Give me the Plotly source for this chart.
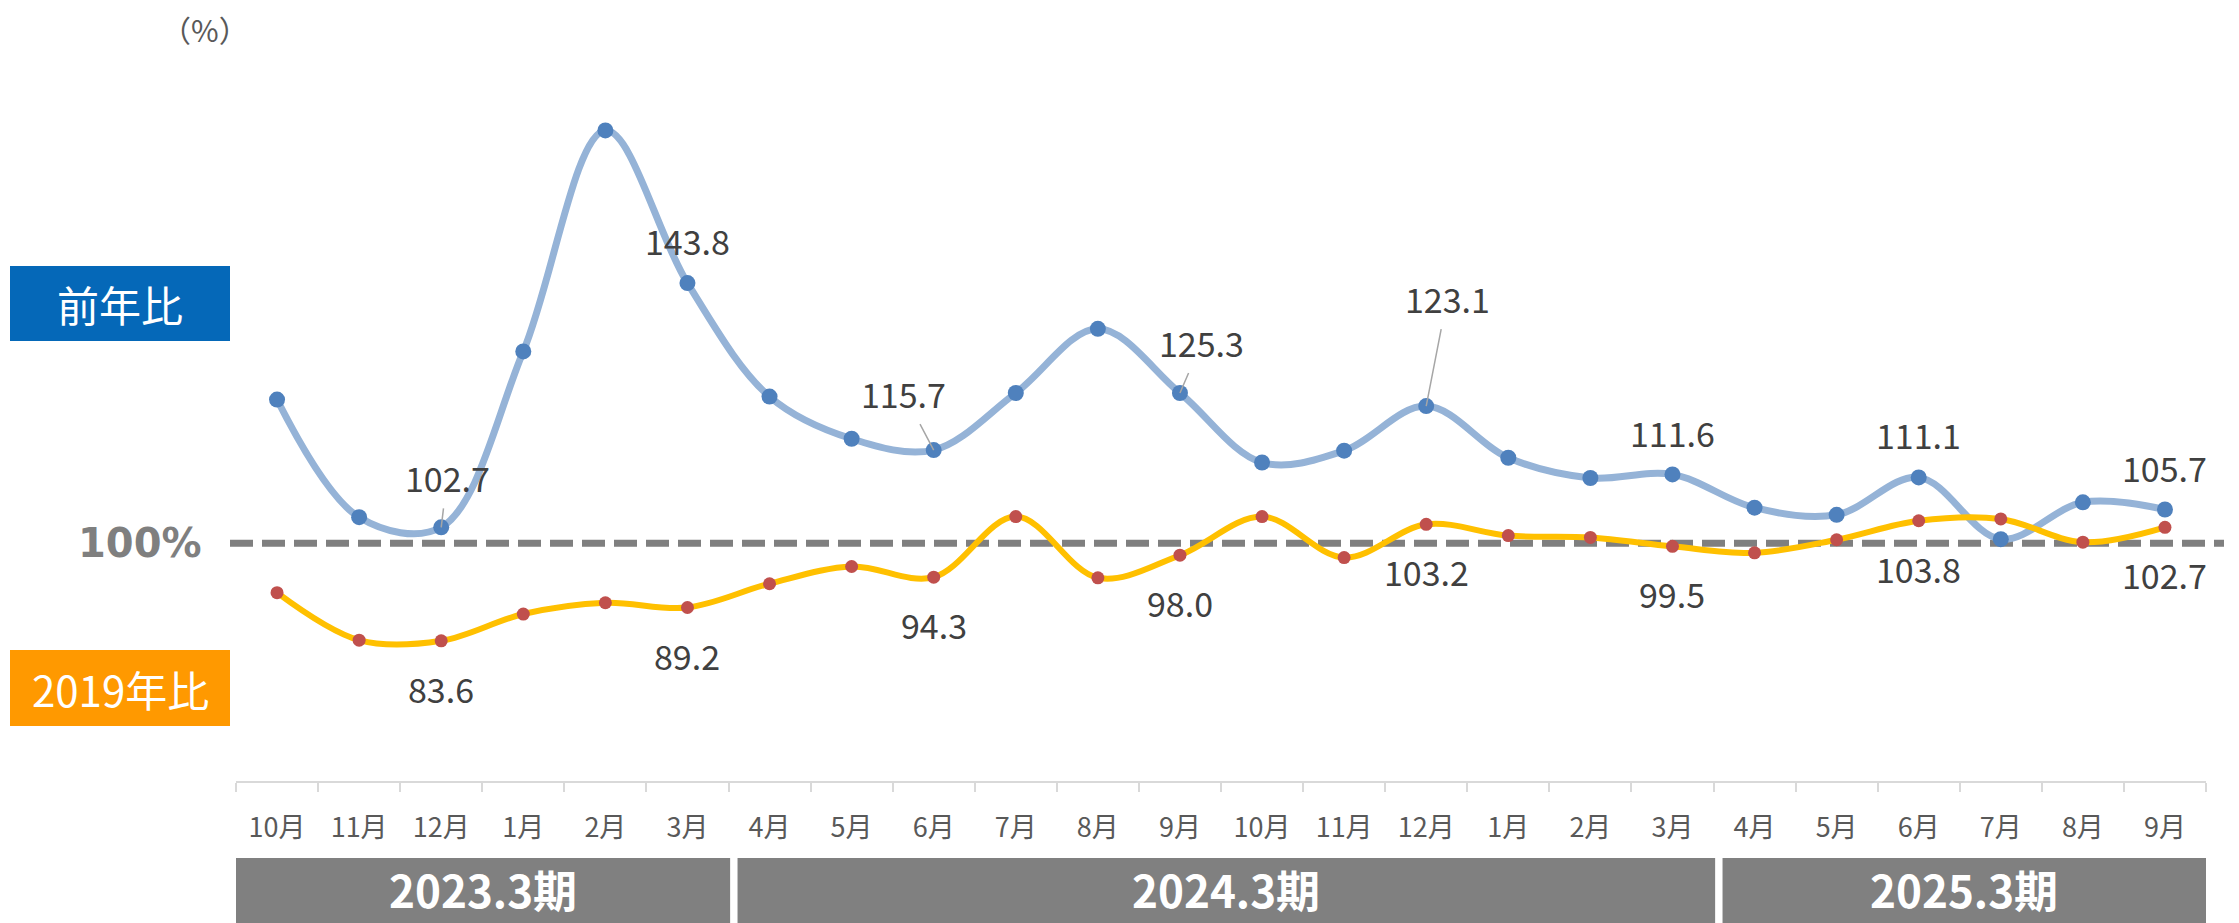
import plotly.graph_objects as go

# ---------------- data ----------------
months = ["10月", "11月", "12月", "1月", "2月", "3月",
          "4月", "5月", "6月", "7月", "8月", "9月", "10月", "11月", "12月", "1月", "2月", "3月",
          "4月", "5月", "6月", "7月", "8月", "9月"]
yoy = [124.2, 104.4, 102.7, 132.3, 169.5, 143.8,
       124.7, 117.6, 115.7, 125.3, 136.1, 125.3, 113.6, 115.6, 123.1, 114.4, 111.0, 111.6,
       106.0, 104.8, 111.1, 100.7, 106.9, 105.7]
vs2019 = [91.7, 83.7, 83.6, 88.1, 90.0, 89.2,
          93.2, 96.1, 94.3, 104.5, 94.2, 98.0, 104.5, 97.6, 103.2, 101.3, 101.0, 99.5,
          98.4, 100.6, 103.8, 104.1, 100.2, 102.7]
label_idx = [2, 5, 8, 11, 14, 17, 20, 23]
periods = ["2023.3期", "2024.3期", "2025.3期"]
period_months = [6, 12, 6]
series_names = ["前年比", "2019年比"]
baseline = 100

# ---------------- layout geometry ----------------
W, H = 2239, 923
L, R, T, B = 236, 33, 68, 142
PW, PH = W - L - R, H - T - B


def px(xp):
    return (xp - L) / PW


def py(yp):
    return (H - B - yp) / PH


FONT = "Noto Sans CJK JP"
x = list(range(len(months)))

fig = go.Figure()
fig.add_trace(go.Scatter(
    x=x, y=yoy, mode="lines+markers", name=series_names[0],
    line=dict(color="#95b3d7", width=7, shape="spline", smoothing=1),
    marker=dict(color="#4f81bd", size=16), hoverinfo="skip"))
fig.add_trace(go.Scatter(
    x=x, y=vs2019, mode="lines+markers", name=series_names[1],
    line=dict(color="#ffc000", width=6, shape="spline", smoothing=1),
    marker=dict(color="#c0504d", size=13), hoverinfo="skip"))

shapes = []
annotations = []

# 100% dashed reference line
shapes.append(dict(type="line", xref="paper", yref="y", x0=px(230), x1=px(2224),
                   y0=baseline, y1=baseline, layer="below",
                   line=dict(color="#7f7f7f", width=7, dash="23px,9px")))

# data labels
blue_off = {2: (6, 50, True), 5: (0, 43, False), 8: (-30, 57, True), 11: (22, 51, True),
            14: (21, 108, True), 17: (0, 42, False), 20: (0, 43, False), 23: (0, 42, False)}
lab_font = dict(family=FONT, size=34, color="#404040")
for i in label_idx:
    dx, dy, leader = blue_off[i]
    if leader:
        annotations.append(dict(x=i, y=yoy[i], xref="x", yref="y", text=f"{yoy[i]:.1f}",
                                showarrow=True, ax=dx, ay=-dy, arrowhead=0, arrowwidth=1.5,
                                arrowcolor="#a6a6a6", standoff=0, borderpad=6, font=lab_font))
    else:
        annotations.append(dict(x=i, y=yoy[i], xref="x", yref="y", text=f"{yoy[i]:.1f}",
                                showarrow=False, xshift=dx, yshift=dy, font=lab_font,
                                xanchor="center", yanchor="middle"))
    annotations.append(dict(x=i, y=vs2019[i], xref="x", yref="y", text=f"{vs2019[i]:.1f}",
                            showarrow=False, yshift=-47.5, font=lab_font,
                            xanchor="center", yanchor="middle"))

# series name boxes
boxes = [(series_names[0], "#0568b8", 266, 341), (series_names[1], "#ff9900", 650, 726)]
for name, col, yt, yb in boxes:
    shapes.append(dict(type="rect", xref="paper", yref="paper", x0=px(10), x1=px(230),
                       y0=py(yb), y1=py(yt), fillcolor=col, line=dict(width=0)))
    annotations.append(dict(x=px(120), y=py((yt + yb) / 2), xref="paper", yref="paper",
                            text=name, showarrow=False, xanchor="center", yanchor="middle",
                            font=dict(family=FONT, size=42, color="white")))

# 100% label
annotations.append(dict(x=px(139.5), y=baseline, xref="paper", yref="y", text="100%",
                        showarrow=False, xanchor="center", yanchor="middle",
                        font=dict(family="DejaVu Sans", size=40, color="#7f7f7f", weight="bold")))
# unit
annotations.append(dict(x=px(205), y=py(29), xref="paper", yref="paper", text="（%）",
                        showarrow=False, xanchor="center", yanchor="middle",
                        font=dict(family=FONT, size=30, color="#595959")))

# fiscal period bars
start = -0.5
for k, (pname, n) in enumerate(zip(periods, period_months)):
    end = start + n
    x0 = start if k == 0 else start + 0.11
    x1 = end if k == len(periods) - 1 else end + 0.02
    shapes.append(dict(type="rect", xref="x", yref="paper", x0=x0, x1=x1,
                       y0=py(923), y1=py(858), fillcolor="#808080", line=dict(width=0)))
    annotations.append(dict(x=(x0 + x1) / 2, y=py(889), xref="x", yref="paper", text=pname,
                            showarrow=False, xanchor="center", yanchor="middle",
                            font=dict(family=FONT, size=44, color="white", weight="bold")))
    start = end

boundaries = [i - 0.5 for i in range(len(months) + 1)]

fig.update_layout(
    width=W, height=H, margin=dict(l=L, r=R, t=T, b=B),
    paper_bgcolor="white", plot_bgcolor="white", showlegend=False,
    shapes=shapes, annotations=annotations, hovermode=False,
    xaxis=dict(range=[-0.5, len(months) - 0.5], tickmode="array", tickvals=x, ticktext=months,
               ticks="outside", ticklen=22, tickcolor="rgba(0,0,0,0)",
               tickfont=dict(family=FONT, size=27, color="#595959"),
               showline=True, linecolor="#d9d9d9", linewidth=2, showgrid=False, zeroline=False,
               minor=dict(tickmode="array", tickvals=boundaries, ticks="outside", ticklen=9,
                          tickcolor="#d9d9d9", tickwidth=2, showgrid=False)),
    yaxis=dict(range=[60, 180], visible=False, showgrid=False, zeroline=False),
)

fig.write_html("out.html", config={"displayModeBar": False},
               post_script="document.body.style.margin='0';")
